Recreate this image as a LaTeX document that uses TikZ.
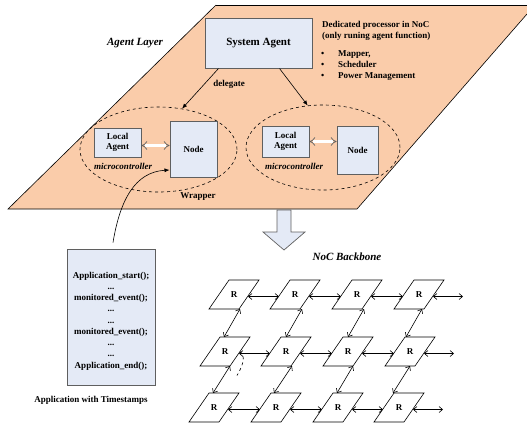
\documentclass[tikz,border=0pt]{standalone}
\usepackage{fontspec}
\setmainfont{Liberation Serif}
\usetikzlibrary{arrows.meta,shapes.geometric}
\definecolor{peach}{RGB}{250,204,170}
\definecolor{boxfill}{RGB}{228,234,246}
\definecolor{boxline}{RGB}{95,95,95}
\begin{document}
\begin{tikzpicture}[x=1pt,y=-1pt,
  box/.style={draw=boxline, fill=boxfill, line width=1pt, inner sep=0pt, align=center,
    font=\bfseries\fontsize{9}{10.5}\selectfont},
  txt/.style={inner sep=0pt, font=\bfseries\fontsize{9}{11}\selectfont},
  itxt/.style={inner sep=0pt, font=\bfseries\itshape\fontsize{9}{11}\selectfont},
  bigitxt/.style={inner sep=0pt, font=\bfseries\itshape\fontsize{11}{13}\selectfont},
  wrapell/.style={ellipse, draw, dashed, line width=0.6pt, inner sep=0pt},
  dlg/.style={line width=0.6pt, -{Latex[length=5pt,width=4pt]}},
  dbl/.style={draw=boxline, double=white, double distance=2.2pt, line width=0.7pt,
    {Implies[length=3.5pt]}-{Implies[length=3.5pt]}},
  rlbl/.style={inner sep=0pt, font=\bfseries\fontsize{9}{11}\selectfont},
  rbox/.style={draw, line width=0.6pt},
  link/.style={line width=0.6pt, {Straight Barb[length=3.5pt,width=6pt]}-{Straight Barb[length=3.5pt,width=6pt]}}
]
\useasboundingbox (0,0) rectangle (527,426);

% agent layer plane
\fill[peach] (216,5) -- (527,5) -- (527,14) -- (357,209) -- (8,209) -- cycle;
\draw[line width=0.6pt] (216,5) -- (527,5);
\draw[line width=0.6pt] (527,14) -- (357,209) -- (8,209) -- (216,5);

\node[bigitxt] (layer) at (135,43) {Agent Layer};

\node[box, minimum width=107pt, minimum height=50pt,
  font=\bfseries\fontsize{11}{13}\selectfont] (sa) at (258.5,43) {System Agent};

\node[txt, anchor=west, align=left] (ded) at (322,31) {Dedicated processor in NoC\\(only runing agent function)};
\node[txt, anchor=base west] (b1) at (321,56) {\textbullet};
\node[txt, anchor=base west] (b2) at (321,67) {\textbullet};
\node[txt, anchor=base west] (b3) at (321,78) {\textbullet};
\node[txt, anchor=base west] (m1) at (338,56) {Mapper,};
\node[txt, anchor=base west] (m2) at (338,67) {Scheduler};
\node[txt, anchor=base west] (m3) at (338,78) {Power Management};

\node[txt] (deleg) at (229,84) {delegate};

\node[wrapell, minimum width=157pt, minimum height=85pt] (w1) at (158.5,149.5) {};
\node[wrapell, minimum width=154pt, minimum height=85pt] (w2) at (323,147.5) {};

\draw[dlg] ([xshift=14pt]sa.south west) -- (w1.60);
\draw[dlg] ([xshift=75pt]sa.south west) -- (w2.110);

\node[box, minimum width=47pt, minimum height=29pt] (la1) at (117.5,142.5) {Local\\Agent};
\node[box, minimum width=47pt, minimum height=56pt] (nd1) at (193.5,149) {Node};
\node[box, minimum width=47pt, minimum height=31pt] (la2) at (285.5,141.5) {Local\\Agent};
\node[box, minimum width=41pt, minimum height=48pt] (nd2) at (357.5,150) {Node};

\draw[dbl] ([yshift=-3pt]la1.east) -- ([yshift=-3pt]la1.east -| nd1.west);
\draw[dbl] (la2.east) -- (la2.east -| nd2.west);

\node[itxt] (mc1) at (123,166) {microcontroller};
\node[itxt] (mc2) at (294,166) {microcontroller};
\node[txt] (wrap) at (198,197) {Wrapper};

% block arrow
\filldraw[fill=boxfill, draw=boxline, line width=0.7pt]
  (277,210) -- (291,210) -- (291,232) -- (305,232) -- (284,250) -- (263,232) -- (277,232) -- cycle;

% application
\node[box, minimum width=88pt, minimum height=136pt] (app) at (111,317) {};
\node[txt, align=center, font=\bfseries\fontsize{9}{11.25}\selectfont] (code) at (111,321)
  {Application\_start();\\...\\monitored\_event();\\...\\...\\monitored\_event();\\...\\...\\Application\_end();};
\node[txt] (apptitle) at (91,400) {Application with Timestamps};

\draw[line width=0.6pt, -{Latex[length=5pt,width=4pt]}]
  ([xshift=2pt,yshift=6pt]app.north) .. controls (120,200) and (135,172) .. ([yshift=-21pt]nd1.west);

\node[bigitxt] (noc) at (347,257) {NoC Backbone};

% routers
\foreach \r/\cy/\xs in {1/294.5/{234,295,357,419}, 2/351.5/{225,286,348,410}, 3/407.5/{214,276,338,399}} {
  \foreach \cx [count=\c] in \xs {
    \node[rlbl] (r\r\c) at (\cx,\cy) {R};
    \draw[rbox] ([shift={(-5,-14.5)}]r\r\c.center) -- ++(30,0) -- ++(-20,29) -- ++(-30,0) -- cycle;
  }
}
% horizontal links
\foreach \r in {1,2,3} {
  \foreach \a/\b in {1/2,2/3,3/4} {
    \draw[link] ([shift={(14,2)}]r\r\a.center) -- ([shift={(-16,2)}]r\r\b.center);
  }
  \coordinate (out\r) at ([shift={(44,2)}]r\r4.center);
  \draw[link] ([shift={(14,2)}]r\r4.center) -- (out\r);
}
% vertical links
\foreach \c/\s/\e in {1/6/-1, 2/7/0, 3/7/0, 4/3/-4} {
  \draw[link] ([shift={(\s,14.5)}]r1\c.center) -- ([shift={(\e,-14.5)}]r2\c.center);
}
\foreach \c/\s/\e in {1/5/-1, 2/6/-2, 3/5/-1, 4/0/-6} {
  \draw[link] ([shift={(\s,14.5)}]r2\c.center) -- ([shift={(\e,-14.5)}]r3\c.center);
}
\draw[dashed, line width=0.6pt] ([shift={(15,0)}]r21.center) .. controls ([shift={(21,4)}]r21.center) and ([shift={(18,14)}]r21.center) .. ([shift={(12,24)}]r21.center);

\end{tikzpicture}
\end{document}
